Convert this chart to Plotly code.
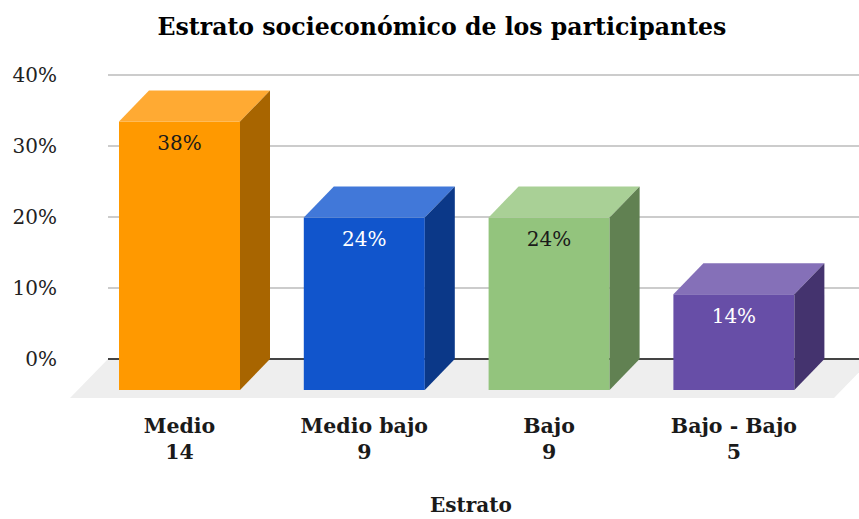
import plotly.graph_objects as go

categories = ["Medio", "Medio bajo", "Bajo", "Bajo - Bajo"]
counts = [14, 9, 9, 5]
percent = [37.8, 24.3, 24.3, 13.5]
percent_labels = ["38%", "24%", "24%", "14%"]
front_colors = ["#FF9900", "#1155CC", "#93C47D", "#674EA7"]
top_colors = ["#FFAA33", "#4178D9", "#A9D096", "#8570B8"]
side_colors = ["#A86500", "#0B3888", "#618152", "#44336E"]
label_colors = ["#1a1a1a", "#ffffff", "#1a1a1a", "#ffffff"]
y_ticks = [0, 10, 20, 30, 40]

FONT = "DejaVu Serif"
W, H = 859, 519
L, R, T, B = 70, 0, 60, 121
PX_X = 184.8          # px per category
PX_Y = 7.1            # px per percentage point
X0_PX = 179.5         # px of the first front face centre
ZERO_PX = 359.0       # px of 0 %

DX = 30 / PX_X        # depth offset, x units
DY = 31 / PX_Y        # depth offset, y units
BW = 121 / PX_X       # bar width, x units
FLOOR_DX = 38 / PX_X
FLOOR_DY = 39 / PX_Y

x_range = [(L - X0_PX) / PX_X, (W - R - X0_PX) / PX_X]
y_range = [(ZERO_PX - (H - B)) / PX_Y, (ZERO_PX - T) / PX_Y]
back_left = (108 - X0_PX) / PX_X
floor_right = x_range[1] + 13 / PX_X
pos = list(range(len(categories)))

fig = go.Figure()


def poly(xs, ys, color):
    fig.add_trace(go.Scatter(x=xs + xs[:1], y=ys + ys[:1], mode="lines", fill="toself",
                             fillcolor=color, line=dict(width=0, color=color),
                             hoverinfo="skip", showlegend=False))


# floor and gridlines sit beneath the bars
shapes = [dict(type="path", xref="x", yref="y", layer="below", line=dict(width=0),
               fillcolor="#EEEEEE",
               path=f"M {x_range[0]} {-FLOOR_DY} L {back_left} 0 L {floor_right} 0 "
                    f"L {floor_right - FLOOR_DX} {-FLOOR_DY} Z")]
for t in y_ticks:
    shapes.append(dict(type="line", xref="x", yref="y", layer="below",
                       x0=back_left, x1=x_range[1], y0=t, y1=t,
                       line=dict(color="#444444" if t == 0 else "#CCCCCC", width=2)))

fig.add_trace(go.Bar(x=pos, y=percent, base=[-DY] * 4, width=BW,
                     marker=dict(color=front_colors, line=dict(width=0)),
                     hoverinfo="skip", showlegend=False))

# 3D faces
for i, p in enumerate(pos):
    left, right = p - BW / 2, p + BW / 2
    v = percent[i]
    poly([left, left + DX, right + DX, right], [v - DY, v, v, v - DY], top_colors[i])
    poly([right, right + DX, right + DX, right], [-DY, 0, v, v - DY], side_colors[i])

fig.add_trace(go.Scatter(x=pos, y=[v - DY - 23.5 / PX_Y for v in percent], mode="text",
                         text=percent_labels,
                         textfont=dict(family=FONT, size=20, color=label_colors),
                         hoverinfo="skip", showlegend=False))

fig.update_layout(
    width=W, height=H, margin=dict(l=L, r=R, t=T, b=B),
    paper_bgcolor="white", plot_bgcolor="white", barmode="overlay", shapes=shapes,
    title=dict(text="<b>Estrato socieconómico de los participantes</b>",
               x=442 / W, xanchor="center", y=1 - 27 / H, yanchor="middle",
               font=dict(family=FONT, size=23.6, color="#000000")),
    xaxis=dict(range=x_range, tickmode="array", tickvals=pos,
               ticktext=[f"<b>{c}</b><br><b>{n}</b>" for c, n in zip(categories, counts)],
               tickfont=dict(family=FONT, size=20.5, color="#1a1a1a"),
               showgrid=False, zeroline=False, showline=False, ticks="outside",
               ticklen=9, tickcolor="rgba(0,0,0,0)"),
    yaxis=dict(range=y_range, tickmode="array", tickvals=y_ticks,
               ticktext=[f"{t}%" for t in y_ticks],
               tickfont=dict(family=FONT, size=20, color="#222222"),
               showgrid=False, zeroline=False, showline=False, ticks="outside",
               ticklen=8, tickcolor="rgba(0,0,0,0)"),
    annotations=[dict(text="<b>Estrato</b>", xref="paper", yref="paper",
                      x=(471 - L) / (W - L - R), y=(H - B - 505) / (H - B - T),
                      xanchor="center", yanchor="middle", showarrow=False,
                      font=dict(family=FONT, size=20, color="#1a1a1a"))],
)

fig.write_html("out.html", config=dict(displayModeBar=False),
               post_script="document.body.style.margin='0';")
